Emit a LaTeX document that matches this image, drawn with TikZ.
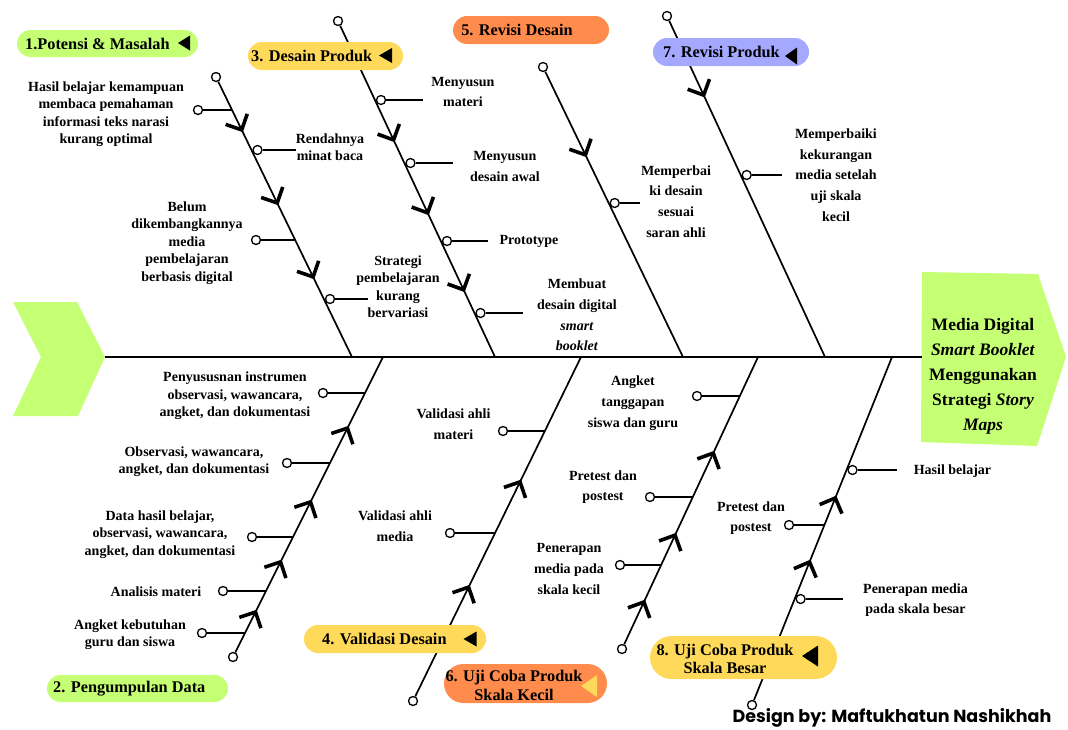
\documentclass[tikz,border=0pt]{standalone}
\usepackage{fontspec}
\setmainfont{Liberation Serif}
\newfontfamily\designfont{Poppins}
\usetikzlibrary{calc}
\definecolor{lgreen}{HTML}{C5FF74}
\definecolor{lorange}{HTML}{FF8B4C}
\definecolor{lyellow}{HTML}{FFD95A}
\definecolor{lblue}{HTML}{A5A8FF}
\newcommand\ltri[5]{\fill[#5] ({#1+#3/2},{#2-#4/2}) -- ({#1+#3/2},{#2+#4/2}) -- ({#1-#3/2},#2) -- cycle;}
\newcommand\chev[3]{\coordinate (tmp) at ($(#1)!#3!(#2)$);
  \draw[chevst] ($(tmp)!17pt!45:(#1)$) -- (tmp) -- ($(tmp)!17pt!-45:(#1)$);}
\newcommand\lbranch[4]{\node[dot] (#1) at (#2,#4) {}; \coordinate (#1-b) at (#3,#4); \draw[br] (#1) -- (#1-b);}
\newcommand\rbranch[4]{\node[dot] (#1) at ({#2+6},#4) {}; \coordinate (#1-e) at (#3,#4); \draw[br] (#1) -- (#1-e);}
\begin{document}
\begin{tikzpicture}[x=1pt,y=-1pt,
  bone/.style={line width=1.7pt},
  br/.style={line width=1.6pt},
  spine/.style={line width=2pt},
  dot/.style={circle,draw,fill=white,line width=1.3pt,minimum size=9pt,inner sep=0pt},
  chevst/.style={line width=3.6pt},
  txa/.style={font=\bfseries\fontsize{14}{17.5}\selectfont,align=center,inner sep=0pt},
  txb/.style={font=\bfseries\fontsize{14}{20.7}\selectfont,align=center,inner sep=0pt},
  lbl/.style={font=\bfseries\fontsize{16.3}{18.5}\selectfont,align=center,inner sep=0pt},
  pill/.style={draw=none,inner sep=0pt},
]
\useasboundingbox (0,0) rectangle (1068,729);
\fill[white] (0,0) rectangle (1068,729);

% tail and head
\fill[lgreen] (13,302) -- (77,302) -- (105,357) -- (78,416) -- (13,416) -- (41,357) -- cycle;
\fill[lgreen] (922,272) -- (1038,274) -- (1066,357) -- (1037,446) -- (921,442) -- cycle;
\coordinate (tailtip) at (105,357);
\coordinate (headL) at (922,357);
\draw[spine] (tailtip) -- (headL);
\node[font=\bfseries\fontsize{17.5}{25}\selectfont,align=center,inner sep=0pt] (head) at (983,376)
  {Media Digital\\\textit{Smart Booklet}\\Menggunakan\\Strategi \textit{Story}\\\textit{Maps}};

% top bones
\node[dot] (b1a) at (216,77) {}; \coordinate (b1b) at (352,357); \draw[bone] (b1a) -- (b1b);
\node[dot] (b3a) at (338,21) {}; \coordinate (b3b) at (495,357); \draw[bone] (b3a) -- (b3b);
\node[dot] (b5a) at (543,67) {}; \coordinate (b5b) at (683,357); \draw[bone] (b5a) -- (b5b);
\node[dot] (b7a) at (667,16) {}; \coordinate (b7b) at (825,357); \draw[bone] (b7a) -- (b7b);
% bottom bones
\node[dot] (b2a) at (233,657) {}; \coordinate (b2b) at (383,357); \draw[bone] (b2a) -- (b2b);
\node[dot] (b4a) at (413,701) {}; \coordinate (b4b) at (581,357); \draw[bone] (b4a) -- (b4b);
\node[dot] (b6a) at (622,649) {}; \coordinate (b6b) at (758,357); \draw[bone] (b6a) -- (b6b);
\node[dot] (b8a) at (752,705) {}; \coordinate (b8b) at (892,357); \draw[bone] (b8a) -- (b8b);

% chevrons
\chev{b1a}{b1b}{0.189} \chev{b1a}{b1b}{0.45} \chev{b1a}{b1b}{0.714}
\chev{b3a}{b3b}{0.354} \chev{b3a}{b3b}{0.571} \chev{b3a}{b3b}{0.80}
\chev{b5a}{b5b}{0.303}
\chev{b7a}{b7b}{0.232}
\chev{b2a}{b2b}{0.763} \chev{b2a}{b2b}{0.517} \chev{b2a}{b2b}{0.317} \chev{b2a}{b2b}{0.15}
\chev{b4a}{b4b}{0.637} \chev{b4a}{b4b}{0.331}
\chev{b6a}{b6b}{0.671} \chev{b6a}{b6b}{0.39} \chev{b6a}{b6b}{0.161}
\chev{b8a}{b8b}{0.595} \chev{b8a}{b8b}{0.411}

% branches
\lbranch{h1}{198}{232}{110}
\rbranch{r1}{251.5}{296}{150}
\lbranch{h2}{256}{295}{240}
\rbranch{r2}{324}{368}{299}
\rbranch{m1}{375}{423}{100}
\rbranch{m2}{404.5}{453}{163}
\rbranch{m3}{441}{488}{241}
\rbranch{m4}{474.5}{523}{313}
\rbranch{m5}{608.7}{640}{203}
\rbranch{m6}{740.7}{782}{175}
\lbranch{n1}{323}{365}{393}
\lbranch{n2}{287}{330}{463}
\lbranch{n3}{252}{293}{537}
\lbranch{n4}{223}{266}{591}
\lbranch{n5}{202}{245}{633}
\lbranch{n6}{503}{545}{431}
\lbranch{n7}{450}{495}{533}
\lbranch{n8}{697}{740}{396}
\lbranch{n9}{650}{693}{497}
\lbranch{n10}{620}{661}{565}
\rbranch{n11}{846.5}{897}{470}
\lbranch{n12}{789}{824.4}{525}
\rbranch{n13}{794.6}{843}{599}

% texts
\node[txa] (t1) at (106,114) {Hasil belajar kemampuan\\membaca pemahaman\\informasi teks narasi\\kurang optimal};
\node[txa] (t2) at (330,147) {Rendahnya\\minat baca};
\node[txa] (t3) at (187,243) {Belum\\dikembangkannya\\media\\pembelajaran\\berbasis digital};
\node[txa] (t4) at (398,286.5) {Strategi\\pembelajaran\\kurang\\bervariasi};
\node[txb] (t5) at (463,92) {Menyusun\\materi};
\node[txb] (t6) at (505,166.5) {Menyusun\\desain awal};
\node[txb] (t7) at (529,241) {Prototype};
\node[txb] (t8) at (577,315) {Membuat\\desain digital\\\textit{smart}\\\textit{booklet}};
\node[txb] (t9) at (676,201.5) {Memperbai\\ki desain\\sesuai\\saran ahli};
\node[txb] (t10) at (836,175) {Memperbaiki\\kekurangan\\media setelah\\uji skala\\kecil};
\node[txa] (t11) at (235,396) {Penyususnan instrumen\\observasi, wawancara,\\angket, dan dokumentasi};
\node[txa] (t12) at (194,461.5) {Observasi, wawancara,\\angket, dan dokumentasi};
\node[txa] (t13) at (160,534.3) {Data hasil belajar,\\observasi, wawancara,\\angket, dan dokumentasi};
\node[txa] (t14) at (156,592) {Analisis materi};
\node[txa] (t15) at (130,634.5) {Angket kebutuhan\\guru dan siswa};
\node[txb] (t16) at (453.5,424) {Validasi ahli\\materi};
\node[txb] (t17) at (395,526.5) {Validasi ahli\\media};
\node[txb] (t18) at (633,403.3) {Angket\\tanggapan\\siswa dan guru};
\node[txb] (t19) at (603,487) {Pretest dan\\postest};
\node[txb] (t20) at (569,569) {Penerapan\\media pada\\skala kecil};
\node[txb] (t21) at (952.5,471) {Hasil belajar};
\node[txb] (t22) at (751,518) {Pretest dan\\postest};
\node[txb] (t23) at (915.5,600) {Penerapan media\\pada skala besar};

% labels
\node[pill,fill=lgreen,rounded corners=13.5pt,minimum width=181pt,minimum height=27pt] (L1) at (107.5,43.5) {};
\node[lbl,anchor=west] (L1t) at (25,43.5) {1.Potensi \& Masalah};
\ltri{184}{43}{12}{15}{black}
\node[pill,fill=lgreen,rounded corners=13.5pt,minimum width=181pt,minimum height=27pt] (L2) at (137.5,688.5) {};
\node[lbl,anchor=west] (L2t) at (53,688.5) {2. Pengumpulan Data};
\node[pill,fill=lyellow,rounded corners=14pt,minimum width=155pt,minimum height=28pt] (L3) at (325.5,56) {};
\node[lbl,anchor=west] (L3t) at (251,56) {3. Desain Produk};
\ltri{385.5}{55.5}{13}{15}{black}
\node[pill,fill=lyellow,rounded corners=14pt,minimum width=182pt,minimum height=28pt] (L4) at (395,639) {};
\node[lbl,anchor=west] (L4t) at (322,638.5) {4. Validasi Desain};
\ltri{470}{639}{13}{15}{black}
\node[pill,fill=lorange,rounded corners=14pt,minimum width=156pt,minimum height=28pt] (L5) at (531,30) {};
\node[lbl] (L5t) at (517,30) {5. Revisi Desain};
\node[pill,fill=lorange,rounded corners=19.5pt,minimum width=163pt,minimum height=39pt] (L6) at (525.5,683.5) {};
\node[lbl] (L6t) at (514,685.5) {6. Uji Coba Produk\\Skala Kecil};
\ltri{589}{686}{16}{22}{lyellow}
\node[pill,fill=lblue,rounded corners=14pt,minimum width=156pt,minimum height=28pt] (L7) at (731,52) {};
\node[lbl,anchor=west] (L7t) at (663,52) {7. Revisi Produk};
\ltri{791}{56}{12}{17}{black}
\node[pill,fill=lyellow,rounded corners=21.5pt,minimum width=187pt,minimum height=43pt] (L8) at (743.5,657.5) {};
\node[lbl] (L8t) at (725,659) {8. Uji Coba Produk\\Skala Besar};
\ltri{810}{656}{16}{21}{black}

\node[font=\designfont\bfseries\fontsize{17.5}{20}\selectfont,inner sep=0pt] (design) at (892,718) {Design by: Maftukhatun Nashikhah};
\end{tikzpicture}
\end{document}
